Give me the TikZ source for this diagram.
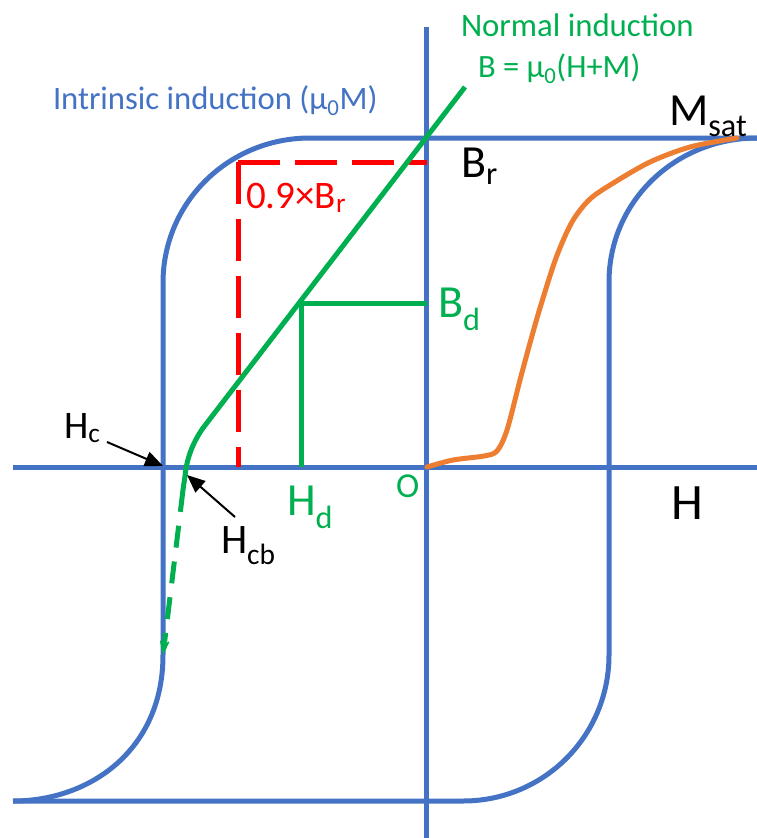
\documentclass[tikz,border=0pt]{standalone}
\usepackage{fontspec}
\setmainfont{Carlito}
\usetikzlibrary{arrows.meta,calc}
\definecolor{cblue}{HTML}{4472C4}
\definecolor{cgreen}{HTML}{00B050}
\definecolor{cred}{HTML}{FF0000}
\definecolor{corange}{HTML}{ED7D31}
\newcommand\fs[1]{\fontsize{#1}{#1}\selectfont}
\begin{document}
\begin{tikzpicture}[x=1pt,y=-1pt,
  ax/.style={cblue,line width=5pt},
  loop/.style={cblue,line width=5pt},
  gline/.style={cgreen,line width=5pt},
  rdash/.style={cred,line width=5pt,dash pattern=on 42pt off 15pt},
  orng/.style={corange,line width=5pt,line cap=round},
  lbl/.style={anchor=base west,inner sep=0pt,outer sep=0pt},
  pointer/.style={black,line width=2pt,-{Triangle[length=18pt,width=15pt]}}]
\useasboundingbox (0,0) rectangle (757,838);
\fill[white] (0,0) rectangle (757,838);
% axes
\coordinate (vt) at (426,27);
\coordinate (vb) at (426,838);
\coordinate (hl) at (13,467);
\coordinate (hr) at (757,467);
\draw[ax] (vt) -- (vb);
\draw[ax] (hl) -- (hr);
% intrinsic loop
\coordinate (t1) at (757,138);
\coordinate (t2) at (310,138);
\coordinate (l1) at (163,283);
\coordinate (l2) at (163,655);
\coordinate (b1) at (13,801);
\coordinate (b2) at (463,801);
\coordinate (r1) at (609,655);
\coordinate (r2) at (609,282);
\draw[loop] (t1) -- (t2) .. controls (229,138) and (163,202) .. (l1) -- (l2)
  .. controls (163,750) and (90,801) .. (b1);
\draw[loop] (b1) -- (b2) .. controls (544,801) and (609,736) .. (r1) -- (r2)
  .. controls (609,201) and (676,138) .. (t1);
% orange initial curve
\draw[orng] plot[smooth,tension=0.5] coordinates {(427,467) (453,460) (484,456) (497,451) (507,430) (520,380) (530,343) (540,308) (556,258) (572,222) (590,199) (615,182) (650,162) (690,147) (737,138)};
% red dashed
\coordinate (rc) at (238,162);
\coordinate (rr) at (427,162);
\coordinate (rb) at (238,467);
\draw[rdash] (rc) -- (rr);
\draw[rdash] (rc) -- (rb);
% green Bd lines
\coordinate (bd) at (301,303);
\coordinate (bdr) at (427,303);
\coordinate (bdb) at (301,467);
\draw[gline] (bdr) -- (bd) -- (bdb);
% normal induction line
\coordinate (g1) at (465,87);
\coordinate (g2) at (203,428);
\coordinate (g3) at (185,476);
\coordinate (g4) at (183,490);
\coordinate (g5) at (163,655);
\coordinate (g6) at ($(g5)!14pt!(g4)$);
\draw[gline] (g1) -- (g2) .. controls (194,441) and (187,456) .. (g3) -- (g4);
\draw[gline,dash pattern=on 22pt off 14pt] (g4) -- (g6);
\draw[gline,-{Stealth[length=27pt,width=19pt,inset=20pt,line width=1.5pt]}] (g6) -- (g5);
% pointers
\coordinate (hcs) at (107,442);
\coordinate (hce) at (163,466);
\coordinate (hcbs) at (235,517);
\coordinate (hcbe) at (187,475);
\draw[pointer] (hcs) -- (hce);
\draw[pointer] (hcbs) -- (hcbe);
% labels
\node[lbl,cblue] (intr) at (53,109) {\fs{32.7}Intrinsic induction (μ\textsubscript{0}M)};
\node[lbl,cgreen] (norm) at (461,36) {\fs{32.8}Normal induction};
\node[lbl,cgreen] (beq) at (478,77) {\fs{32.5}B = μ\textsubscript{0}(H+M)};
\node[lbl] (msat) at (669,125) {\fs{46}M\textsubscript{sat}};
\node[lbl] (br) at (461,177) {\fs{46}B\textsubscript{r}};
\node[lbl,cred] (nbr) at (246,208) {\fs{39}0.9×B\textsubscript{r}};
\node[lbl,cgreen] (bdl) at (438,317) {\fs{46}B\textsubscript{d}};
\node[lbl,cgreen] (hdl) at (287,515) {\fs{46}H\textsubscript{d}};
\node[lbl,cgreen] (ol) at (396,497) {\fs{35}O};
\node[lbl] (hl2) at (671,519) {\fs{51}H};
\node[lbl] (hc) at (64,438) {\fs{39}H\textsubscript{c}};
\node[lbl] (hcb) at (221,553) {\fs{42}H\textsubscript{cb}};
\end{tikzpicture}
\end{document}
